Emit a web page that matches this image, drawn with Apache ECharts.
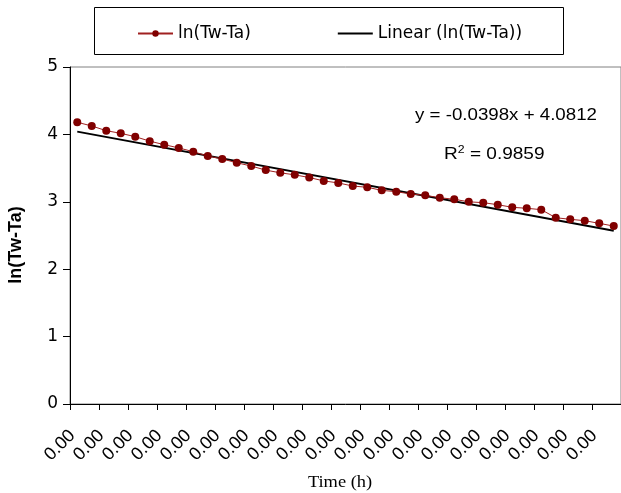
<!DOCTYPE html>
<html>
<head>
<meta charset="utf-8">
<script src="https://cdn.jsdelivr.net/npm/echarts@6/dist/echarts.min.js"></script>
<style>
html,body{margin:0;padding:0;background:#fff;overflow:hidden;}
#c{width:621px;height:493px;}
</style>
</head>
<body>
<div id="c"></div>
<script>
// x categories (all labels read as "0.00")
const categories = Array.from({length: 38}, () => "0.00");
// ln(Tw-Ta) values
const lnValues = [4.18, 4.125, 4.055, 4.016, 3.966, 3.90, 3.847, 3.80, 3.743, 3.68,
  3.635, 3.58, 3.53, 3.47, 3.43, 3.40, 3.36, 3.31, 3.28, 3.234,
  3.215, 3.17, 3.15, 3.116, 3.096, 3.061, 3.037, 3.00, 2.987, 2.957,
  2.918, 2.904, 2.883, 2.764, 2.74, 2.72, 2.68, 2.64];
// trend line end values (first and last category)
const trendEnds = [4.041, 2.569];
const yTicks = [0, 1, 2, 3, 4, 5];
const seriesNames = ["ln(Tw-Ta)", "Linear (ln(Tw-Ta))"];
const equationText = "y = -0.0398x + 4.0812";
const r2Value = "0.9859";

const chart = echarts.init(document.getElementById('c'), null, {renderer: 'canvas'});
const FONT = '"Liberation Sans", Arial, sans-serif';
const WFONT = '"DejaVu Sans", sans-serif';
const option = {
  animation: false,
  backgroundColor: '#fff',
  grid: {left: 70, top: 67, width: 553, height: 337, show: true, borderColor: '#808080', borderWidth: 1, backgroundColor: 'transparent'},
  legend: {
    left: 132, top: 20, itemWidth: 35, itemHeight: 8, itemGap: 86,
    textStyle: {fontFamily: WFONT, fontSize: 17, color: '#000'},
    data: [
      {name: seriesNames[0]},
      {name: seriesNames[1], itemStyle: {opacity: 0}}
    ]
  },
  xAxis: {
    type: 'category', data: categories, boundaryGap: true,
    axisLine: {lineStyle: {color: '#000', width: 1}},
    axisTick: {show: true, interval: 1, length: 6, lineStyle: {color: '#000'}},
    axisLabel: {interval: 1, rotate: 45, margin: 24, padding: [0, 7, 0, 0], fontFamily: FONT, fontSize: 18, color: '#000'},
    splitLine: {show: false}
  },
  yAxis: {
    type: 'value', min: yTicks[0], max: yTicks[yTicks.length - 1], interval: 1,
    axisLine: {show: true, lineStyle: {color: '#000', width: 1}},
    axisTick: {show: true, length: 7, lineStyle: {color: '#000'}},
    axisLabel: {margin: 12, fontFamily: WFONT, fontSize: 17, color: '#000'},
    splitLine: {show: false}
  },
  graphic: [
    {type: 'rect', shape: {x: 94.5, y: 7.5, width: 469, height: 47}, style: {fill: 'none', stroke: '#000', lineWidth: 1}, z: 0},
    {type: 'text', x: 415, y: 107, scaleX: 1.10, style: {text: equationText, font: '17px ' + FONT, fill: '#000'}},
    {type: 'text', x: 444, y: 144, scaleX: 1.12, style: {
      text: '{a|R}{s|2}{a| = ' + r2Value + '}',
      rich: {a: {fontFamily: FONT, fontSize: 17, fill: '#000', verticalAlign: 'bottom'},
             s: {fontFamily: FONT, fontSize: 11, fill: '#000', verticalAlign: 'top', padding: [0, 0, 8, 0]}},
      fill: '#000'}},
    {type: 'text', x: 340, y: 483, scaleX: 1.15, style: {text: 'Time (h)', font: '16px "Liberation Serif", "Times New Roman", serif', fill: '#000', align: 'center', verticalAlign: 'middle'}},
    {type: 'text', x: 16, y: 245, rotation: Math.PI / 2, style: {text: 'ln(Tw-Ta)', font: 'bold 18px ' + FONT, fill: '#000', align: 'center', verticalAlign: 'middle'}}
  ],
  series: [
    {
      name: seriesNames[0], type: 'line', data: lnValues,
      symbol: 'circle', symbolSize: 8,
      itemStyle: {color: '#800000'},
      lineStyle: {color: '#a02020', width: 1}, z: 3
    },
    {
      name: seriesNames[1], type: 'line',
      data: [[0, trendEnds[0]], [categories.length - 1, trendEnds[1]]],
      symbol: 'none', showSymbol: false,
      itemStyle: {color: '#000'},
      lineStyle: {color: '#000', width: 2}, z: 2
    }
  ]
};
chart.setOption(option);
</script>
</body>
</html>
